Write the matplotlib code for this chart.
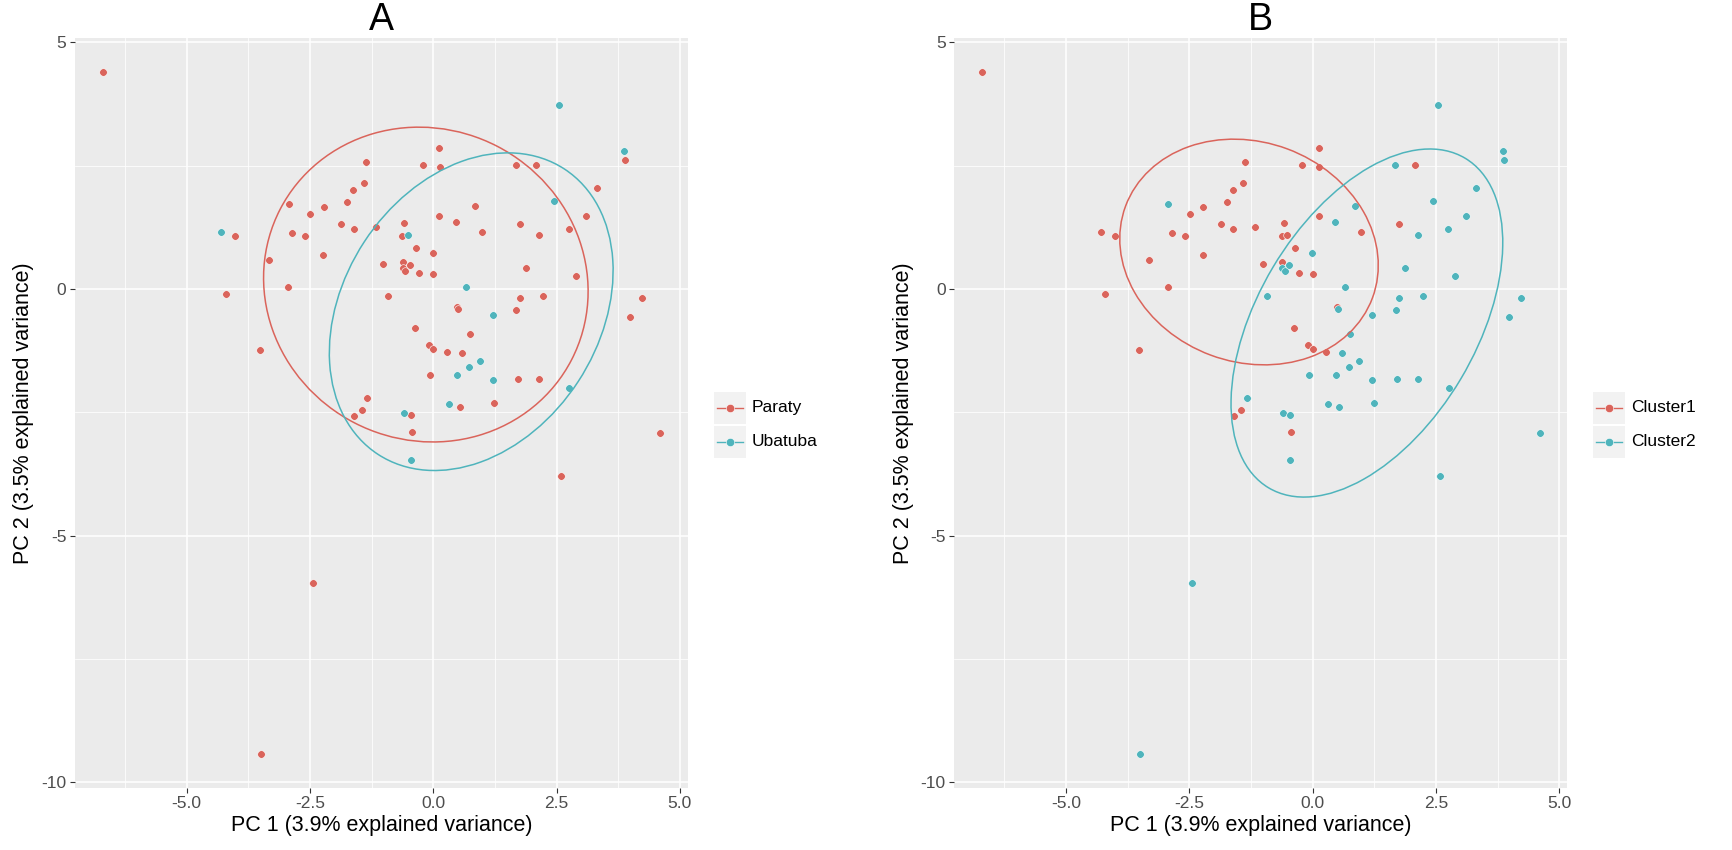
import numpy as np
import matplotlib
matplotlib.use("Agg")
import matplotlib.pyplot as plt
from matplotlib.patches import Rectangle, Ellipse
from matplotlib.lines import Line2D

plt.rcParams['font.family'] = ['Liberation Sans', 'DejaVu Sans']

# PCA scores (same samples in both panels)
pc1 = [-6.70, -4.30, -4.01, -3.32, -2.93, -2.86, -2.59, -2.49, -2.22, -2.23,
       -1.86, -1.74, -1.62, -1.61, -1.41, -1.37, -1.17, -1.01, -0.59, -0.63,
       -0.51, -0.35, -0.21, -0.01, 0.12, 0.13, 0.12, 0.46, 0.85, 0.98,
       -0.62, -0.62, -0.57, -0.47, -0.28, 0.00, 1.67, 2.08, 2.55, 2.45,
       1.75, 2.14, 2.75, 3.10, 3.32, 1.88, 2.89, 3.86, 3.88, -4.21,
       -2.94, -3.52, -1.34, -1.45, -1.60, 0.66, -0.92, 1.76, 2.23, 4.23,
       0.49, 0.51, 1.21, 1.68, 3.99, -0.37, 0.75, -0.09, 0.00, 0.27,
       0.59, 0.95, 0.73, -0.07, 0.48, 1.21, 1.72, 2.14, 2.76, 0.32,
       0.54, 1.24, -0.60, -0.45, -0.43, -0.45, 2.59, 4.60, -2.44, -3.50]
pc2 = [4.40, 1.16, 1.07, 0.59, 1.73, 1.14, 1.08, 1.53, 1.66, 0.69,
       1.32, 1.76, 2.01, 1.21, 2.14, 2.58, 1.26, 0.50, 1.34, 1.07,
       1.09, 0.84, 2.51, 0.74, 2.85, 2.47, 1.47, 1.36, 1.68, 1.16,
       0.55, 0.42, 0.36, 0.49, 0.32, 0.31, 2.52, 2.52, 3.74, 1.78,
       1.31, 1.09, 1.21, 1.47, 2.05, 0.42, 0.26, 2.80, 2.62, -0.10,
       0.05, -1.23, -2.22, -2.45, -2.57, 0.05, -0.14, -0.18, -0.14, -0.18,
       -0.36, -0.41, -0.53, -0.43, -0.57, -0.79, -0.91, -1.14, -1.22, -1.28,
       -1.30, -1.46, -1.59, -1.75, -1.75, -1.85, -1.83, -1.82, -2.01, -2.34,
       -2.39, -2.31, -2.51, -2.55, -2.90, -3.47, -3.80, -2.91, -5.97, -9.42]

# panel A grouping: P = Paraty, U = Ubatuba
site = ['P', 'U', 'P', 'P', 'P', 'P', 'P', 'P', 'P', 'P',
        'P', 'P', 'P', 'P', 'P', 'P', 'P', 'P', 'P', 'P',
        'U', 'P', 'P', 'P', 'P', 'P', 'P', 'P', 'P', 'P',
        'P', 'P', 'P', 'P', 'P', 'P', 'P', 'P', 'U', 'U',
        'P', 'P', 'P', 'P', 'P', 'P', 'P', 'U', 'P', 'P',
        'P', 'P', 'P', 'P', 'P', 'U', 'P', 'P', 'P', 'P',
        'P', 'P', 'U', 'P', 'P', 'P', 'P', 'P', 'P', 'P',
        'P', 'U', 'U', 'P', 'U', 'U', 'P', 'P', 'U', 'U',
        'P', 'P', 'U', 'P', 'P', 'U', 'P', 'P', 'P', 'P']
# panel B grouping: cluster number
cluster = [1, 1, 1, 1, 2, 1, 1, 1, 1, 1,
           1, 1, 1, 1, 1, 1, 1, 1, 1, 1,
           1, 1, 1, 2, 1, 1, 1, 2, 2, 1,
           1, 2, 2, 2, 1, 1, 2, 1, 2, 2,
           1, 2, 2, 2, 2, 2, 2, 2, 2, 1,
           1, 1, 2, 1, 1, 2, 2, 2, 2, 2,
           1, 2, 2, 2, 2, 1, 2, 1, 1, 1,
           2, 2, 2, 2, 2, 2, 2, 2, 2, 2,
           2, 2, 2, 2, 1, 2, 2, 2, 2, 2]

site_names = {'P': 'Paraty', 'U': 'Ubatuba'}
cluster_names = {1: 'Cluster1', 2: 'Cluster2'}

# 95% ellipses: centre x, centre y, full width, full height, angle (deg)
ell_a_center_x = [-0.15, 0.77]
ell_a_center_y = [0.09, -0.46]
ell_a_width = [6.65, 6.91]
ell_a_height = [6.31, 5.18]
ell_a_angle = [-27.3, 56.8]

ell_b_center_x = [-1.29, 1.10]
ell_b_center_y = [0.75, -0.69]
ell_b_width = [5.34, 7.78]
ell_b_height = [4.46, 4.43]
ell_b_angle = [-20.4, 59.2]

RED = '#DA645B'
TEAL = '#4FB4BC'
W, H = 1732, 850


def px(x, y):
    return x / W, 1 - y / H


fig = plt.figure(figsize=(W / 100, H / 100), dpi=100)
x = np.array(pc1)
y = np.array(pc2)

panels = [
    ('A', 74.9, [site_names[s] for s in site], ['Paraty', 'Ubatuba'],
     (ell_a_center_x, ell_a_center_y, ell_a_width, ell_a_height, ell_a_angle)),
    ('B', 954.3, [cluster_names[c] for c in cluster], ['Cluster1', 'Cluster2'],
     (ell_b_center_x, ell_b_center_y, ell_b_width, ell_b_height, ell_b_angle)),
]

xr = x.max() - x.min()
yr = y.max() - y.min()

for title, left, groups, levels, ells in panels:
    groups = np.array(groups)
    ax = fig.add_axes([left / W, 62.3 / H, 613.1 / W, 749.8 / H])
    ax.set_facecolor('#EBEBEB')
    for s in ax.spines.values():
        s.set_visible(False)
    ax.set_xlim(x.min() - 0.05 * xr, x.max() + 0.05 * xr)
    ax.set_ylim(y.min() - 0.05 * yr, y.max() + 0.05 * yr)
    ax.set_xticks([-5.0, -2.5, 0.0, 2.5, 5.0])
    ax.set_xticklabels(['-5.0', '-2.5', '0.0', '2.5', '5.0'])
    ax.set_yticks([-10, -5, 0, 5])
    ax.set_yticklabels(['-10', '-5', '0', '5'])
    ax.set_xticks([-6.25, -3.75, -1.25, 1.25, 3.75], minor=True)
    ax.set_yticks([-7.5, -2.5, 2.5], minor=True)
    ax.grid(True, which='major', color='white', linewidth=1.1)
    ax.grid(True, which='minor', color='white', linewidth=0.55)
    ax.set_axisbelow(True)
    ax.tick_params(which='major', length=3.6, width=0.8, color='#333333',
                   labelcolor='#4D4D4D', labelsize=12.5, pad=2.5)
    ax.tick_params(which='minor', length=0)
    ax.set_xlabel('PC 1 (3.9% explained variance)', fontsize=15.5, labelpad=3)
    ax.set_ylabel('PC 2 (3.5% explained variance)', fontsize=15.5, labelpad=5)
    ax.set_title(title, fontsize=27, pad=5)

    for lev, col in zip(levels, [RED, TEAL]):
        m = groups == lev
        ax.scatter(x[m], y[m], s=30, color=col, edgecolors='white',
                   linewidths=0.4, zorder=3)
    cx, cy, ew, eh, ea = ells
    for i, col in enumerate([RED, TEAL]):
        ax.add_patch(Ellipse((cx[i], cy[i]), ew[i], eh[i], angle=ea[i],
                             fill=False, edgecolor=col, linewidth=1.1, zorder=4))

    # legend drawn like ggplot's keys
    kx = left + 613.1 + 26
    for i, (lev, col) in enumerate(zip(levels, [RED, TEAL])):
        ky = 391.7 + i * 34.3
        x0, y0 = px(kx, ky + 32)
        fig.add_artist(Rectangle((x0, y0), 32 / W, 32 / H, transform=fig.transFigure,
                                 facecolor='#F2F2F2', edgecolor='none'))
        lx0, ly = px(kx + 3, ky + 16)
        lx1, _ = px(kx + 29, ky + 16)
        fig.add_artist(Line2D([lx0, lx1], [ly, ly], transform=fig.transFigure,
                              color=col, linewidth=1.0))
        mx, _ = px(kx + 16, ky + 16)
        fig.add_artist(Line2D([mx], [ly], transform=fig.transFigure, color=col,
                              marker='o', markersize=6, markeredgecolor='white',
                              markeredgewidth=0.4))
        tx, _ = px(kx + 38, ky + 16)
        fig.text(tx, ly, lev, fontsize=12.5, va='center', ha='left', color='black')

fig.savefig('out.png', dpi=100)
